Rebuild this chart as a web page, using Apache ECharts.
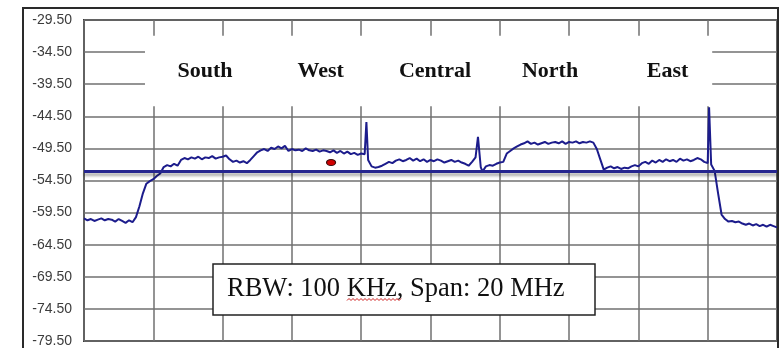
<!DOCTYPE html>
<html><head><meta charset="utf-8">
<script src="https://cdn.jsdelivr.net/npm/echarts@6/dist/echarts.min.js"></script>
<style>html,body{margin:0;padding:0;background:#fff}#c{width:784px;height:348px}</style>
</head><body><div id="c"></div>
<script>
// Spectrum trace: frequency offset within the 20 MHz span (MHz) and level (dBm)
const freqMHz = [
 0.0,0.1,0.2,0.3,0.4,0.5,0.6,0.7,0.8,0.9,
 1.0,1.1,1.2,1.3,1.4,1.5,1.6,1.7,1.8,1.9,
 2.0,2.1,2.2,2.3,2.4,2.5,2.6,2.7,2.8,2.9,
 3.0,3.1,3.2,3.3,3.4,3.5,3.6,3.7,3.8,3.9,
 4.0,4.1,4.2,4.3,4.4,4.5,4.6,4.7,4.8,4.9,
 5.0,5.1,5.2,5.3,5.4,5.5,5.6,5.7,5.8,5.9,
 6.0,6.1,6.2,6.3,6.4,6.5,6.6,6.7,6.8,6.9,
 7.0,7.1,7.2,7.3,7.4,7.5,7.6,7.7,7.8,7.9,
 8.0,8.1,8.15,8.2,8.3,8.4,8.5,8.6,8.7,8.8,8.9,
 9.0,9.1,9.2,9.3,9.4,9.5,9.6,9.7,9.8,9.9,
 10.0,10.1,10.2,10.3,10.4,10.5,10.6,10.7,10.8,10.9,
 11.0,11.1,11.2,11.3,11.37,11.45,11.5,11.6,11.7,11.8,11.9,
 12.0,12.1,12.2,12.3,12.4,12.5,12.6,12.7,12.8,12.9,
 13.0,13.1,13.2,13.3,13.4,13.5,13.6,13.7,13.8,13.9,
 14.0,14.1,14.2,14.3,14.4,14.5,14.6,14.7,14.8,14.9,
 15.0,15.1,15.2,15.3,15.4,15.5,15.6,15.7,15.8,15.9,
 16.0,16.1,16.2,16.3,16.4,16.5,16.6,16.7,16.8,16.9,
 17.0,17.1,17.2,17.3,17.4,17.5,17.6,17.7,17.8,17.9,
 18.0,18.04,18.1,18.2,18.3,18.4,18.5,18.6,18.7,18.8,18.9,
 19.0,19.1,19.2,19.3,19.4,19.5,19.6,19.7,19.8,19.9,20.0
];
const levelDbm = [
 -60.4,-60.7,-60.5,-60.8,-60.6,-60.4,-60.7,-60.5,-60.6,-60.9,
 -60.5,-60.8,-61.1,-60.7,-61.0,-60.2,-58.5,-56.5,-55.0,-54.6,
 -54.3,-53.8,-53.4,-52.4,-52.1,-52.3,-51.9,-52.2,-51.3,-51.0,
 -51.2,-50.9,-51.1,-50.8,-51.2,-50.9,-51.0,-50.7,-51.1,-50.9,
 -50.8,-50.6,-51.2,-51.6,-51.4,-51.7,-51.5,-51.8,-51.3,-50.7,
 -50.1,-49.8,-49.6,-49.9,-49.4,-49.6,-49.2,-49.5,-49.1,-49.9,
 -49.6,-49.8,-49.7,-49.9,-49.5,-49.8,-49.9,-49.7,-50.0,-49.8,
 -49.9,-50.1,-49.8,-50.2,-49.9,-50.3,-50.0,-50.4,-50.2,-50.5,
 -50.3,-50.4,-45.4,-51.3,-52.3,-52.5,-52.4,-52.2,-51.9,-51.6,-51.8,
 -51.4,-51.2,-51.5,-51.3,-51.0,-51.4,-51.1,-51.5,-51.2,-51.6,
 -51.3,-51.5,-51.2,-51.4,-51.7,-51.5,-51.3,-51.6,-51.4,-51.7,
 -51.9,-52.2,-51.6,-50.9,-47.7,-52.4,-53.1,-52.3,-52.1,-52.2,-51.9,
 -51.7,-51.6,-50.3,-49.9,-49.5,-49.2,-48.9,-48.7,-48.4,-48.8,
 -48.6,-48.9,-48.7,-48.5,-48.8,-48.6,-48.5,-48.7,-48.4,-48.8,
 -48.5,-48.6,-48.4,-48.7,-48.5,-48.6,-48.4,-48.6,-49.6,-51.2,
 -52.8,-52.5,-52.3,-52.6,-52.4,-52.7,-52.5,-52.6,-52.3,-52.1,
 -52.3,-51.8,-51.6,-51.9,-51.4,-51.7,-51.3,-51.6,-51.2,-51.5,
 -51.3,-51.6,-51.1,-51.4,-51.2,-51.5,-51.3,-51.0,-51.2,-51.6,
 -51.8,-43.1,-52.0,-53.0,-56.5,-59.8,-60.5,-60.9,-60.8,-61.0,-60.9,
 -61.2,-61.4,-61.2,-61.5,-61.3,-61.6,-61.4,-61.7,-61.4,-61.6,-61.8
];
const yTickLabels = ['-79.50','-74.50','-69.50','-64.50','-59.50','-54.50','-49.50','-44.50','-39.50','-34.50','-29.50'];
const yBottom = -79.5;
const regionNames = ['South','West','Central','North','East'];
const regionCentersMHz = [3.49, 6.83, 10.13, 13.45, 16.84];
const regionLabelLevel = -37.5;
const referenceLevel = -53.0;
const markerPoint = [7.13, -51.7];
const annotationText = 'RBW: 100 KHz, Span: 20 MHz';

const chart = echarts.init(document.getElementById('c'), null, {renderer: 'canvas'});
const sh = v => v - yBottom;

// red spell-check squiggle under "KHz"
const squiggle = [];
for (let x = 347, k = 0; x <= 401; x += 2, k++) squiggle.push([x, k % 2 ? 298.5 : 300.5]);

chart.setOption({
  animation: false,
  backgroundColor: '#fff',
  grid: {left: 84, top: 20, right: 7, bottom: 4, show: true, borderColor: '#3a3a3a', borderWidth: 2, backgroundColor: 'transparent'},
  xAxis: {
    type: 'value', min: 0, max: 20, interval: 2,
    axisLine: {show: false}, axisTick: {show: false}, axisLabel: {show: false},
    splitLine: {show: true, lineStyle: {color: '#707070', width: 1.5}}
  },
  yAxis: {
    type: 'value', min: 0, max: 50, interval: 5,
    axisLine: {show: false}, axisTick: {show: false},
    axisLabel: {
      margin: 12, color: '#3c3c3c', fontFamily: 'Liberation Sans', fontSize: 14,
      formatter: v => yTickLabels[Math.round(v / 5)]
    },
    splitLine: {show: true, lineStyle: {color: '#707070', width: 1.5}}
  },
  series: [
    {
      type: 'line', showSymbol: false, z: 3,
      data: freqMHz.map((f, i) => [f, sh(levelDbm[i])]),
      lineStyle: {color: '#1c1c8c', width: 2},
      markArea: {
        silent: true,
        itemStyle: {color: '#ffffff', opacity: 1},
        data: [[{xAxis: 1.76, yAxis: sh(-31.97)}, {xAxis: 18.13, yAxis: sh(-42.93)}]]
      },
      markLine: {
        silent: true, symbol: 'none', label: {show: false},
        lineStyle: {color: '#25258f', width: 3, type: 'solid', opacity: 1, shadowColor: 'rgba(0,0,0,0.35)', shadowBlur: 3, shadowOffsetY: 3},
        data: [{yAxis: sh(referenceLevel)}]
      }
    },
    {
      type: 'scatter', z: 4,
      data: [[markerPoint[0], sh(markerPoint[1])]],
      symbol: 'circle', symbolSize: [9, 6],
      itemStyle: {color: '#d00000', borderColor: '#3a1010', borderWidth: 1, opacity: 1}
    },
    {
      type: 'scatter', z: 5, symbolSize: 0, silent: true,
      itemStyle: {opacity: 1},
      data: regionCentersMHz.map((f, i) => ({value: [f, sh(regionLabelLevel)], name: regionNames[i]})),
      label: {
        show: true, position: 'inside', formatter: '{b}',
        fontFamily: 'Liberation Serif', fontWeight: 'bold', fontSize: 22, color: '#111', opacity: 1
      }
    }
  ],
  graphic: [
    {type: 'rect', z: 100, shape: {x: 23, y: 8, width: 755, height: 360}, style: {fill: 'none', stroke: '#2a2a2a', lineWidth: 2}},
    {type: 'rect', z: 100, shape: {x: 213, y: 264, width: 382, height: 51}, style: {fill: '#fff', stroke: '#222', lineWidth: 1.5}},
    {type: 'text', z: 101, x: 227, y: 289.5, style: {text: annotationText, fill: '#111', font: '26.5px "Liberation Serif"', textVerticalAlign: 'middle', verticalAlign: 'middle'}},
    {type: 'polyline', z: 102, shape: {points: squiggle}, style: {stroke: '#d02020', lineWidth: 1, fill: 'none'}}
  ]
});
</script>
</body></html>
